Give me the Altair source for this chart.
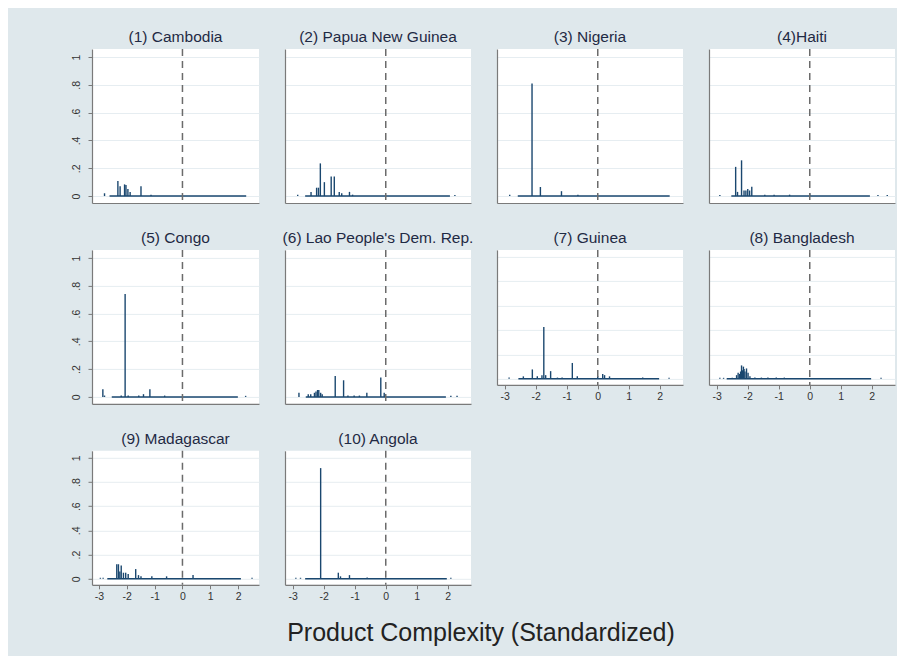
import altair as alt
import pandas as pd

# ---------------- data ----------------
countries = ["(1) Cambodia", "(2) Papua New Guinea", "(3) Nigeria", "(4)Haiti",
             "(5) Congo", "(6) Lao People's Dem. Rep.", "(7) Guinea", "(8) Bangladesh",
             "(9) Madagascar", "(10) Angola"]

cambodia_x = [-2.80, -2.32, -2.24, -2.08, -2.03, -1.96, -1.88, -1.49, -1.13]
cambodia_y = [0.02, 0.108, 0.07, 0.084, 0.08, 0.05, 0.03, 0.07, 0.01]

png_x = [-2.84, -2.41, -2.23, -2.17, -2.11, -1.98, -1.76, -1.66, -1.50, -1.42, -1.17, -1.07, 2.23]
png_y = [0.01, 0.03, 0.06, 0.06, 0.235, 0.10, 0.14, 0.14, 0.03, 0.02, 0.03, 0.01, 0.008]

nigeria_x = [-2.84, -2.12, -1.85, -1.17, -0.64]
nigeria_y = [0.01, 0.81, 0.065, 0.035, 0.01]

haiti_x = [-2.90, -2.39, -2.33, -2.20, -2.12, -2.06, -2.00, -1.94, -1.87, -1.45, -1.15, -0.65, 0.0, 2.2, 2.5]
haiti_y = [0.008, 0.21, 0.03, 0.257, 0.04, 0.04, 0.05, 0.04, 0.067, 0.01, 0.01, 0.01, 0.02, 0.008, 0.008]

congo_x = [-2.86, -2.80, -2.20, -2.06, -1.95, -1.57, -1.40, -1.17, -0.64, 2.27]
congo_y = [0.055, 0.01, 0.01, 0.74, 0.01, 0.01, 0.02, 0.055, 0.01, 0.008]

lao_x = [-2.80, -2.50, -2.42, -2.30, -2.25, -2.20, -2.16, -2.10, -2.05, -1.63, -1.36, -1.22,
         -1.02, -0.85, -0.61, -0.16, -0.05, 2.10, 2.30]
lao_y = [0.03, 0.02, 0.02, 0.03, 0.04, 0.05, 0.05, 0.03, 0.02, 0.15, 0.12, 0.01,
         0.01, 0.01, 0.03, 0.14, 0.03, 0.008, 0.008]

guinea_x = [-2.86, -2.40, -2.11, -1.95, -1.80, -1.74, -1.68, -1.52, -1.30, -1.15, -0.82, -0.66,
            0.0, 0.16, 0.22, 0.38, 1.45, 2.30]
guinea_y = [0.01, 0.02, 0.077, 0.02, 0.03, 0.425, 0.03, 0.063, 0.01, 0.01, 0.13, 0.02,
            0.02, 0.04, 0.03, 0.02, 0.01, 0.008]

bangladesh_x = [-2.90, -2.78, -2.50, -2.36, -2.31, -2.26, -2.23, -2.20, -2.17, -2.14, -2.12,
                -2.09, -2.04, -1.99, -1.93, -1.77, -1.56, -1.35, -1.08, -0.82, 2.30]
bangladesh_y = [0.008, 0.008, 0.008, 0.03, 0.05, 0.04, 0.06, 0.11, 0.07, 0.10, 0.08,
                0.06, 0.085, 0.05, 0.02, 0.01, 0.01, 0.01, 0.01, 0.01, 0.008]

madagascar_x = [-2.95, -2.85, -2.36, -2.30, -2.25, -2.20, -2.12, -2.04, -1.95, -1.68, -1.58,
                -1.49, -1.10, -0.57, 0.38, 2.50]
madagascar_y = [0.008, 0.008, 0.12, 0.12, 0.06, 0.11, 0.05, 0.05, 0.04, 0.08, 0.03,
                0.02, 0.02, 0.02, 0.03, 0.008]

angola_x = [-2.90, -2.75, -2.10, -1.53, -1.46, -1.17, -0.60, 2.10]
angola_y = [0.008, 0.008, 0.915, 0.05, 0.02, 0.03, 0.01, 0.008]

baseline_start = [-2.62, -2.60, -2.58, -2.53, -2.54, -2.58, -2.56, -2.68, -2.70, -2.60]
baseline_end = [2.29, 2.07, 2.32, 1.94, 1.99, 1.94, 1.98, 1.98, 2.10, 1.97]

series_x = [cambodia_x, png_x, nigeria_x, haiti_x, congo_x, lao_x, guinea_x, bangladesh_x,
            madagascar_x, angola_x]
series_y = [cambodia_y, png_y, nigeria_y, haiti_y, congo_y, lao_y, guinea_y, bangladesh_y,
            madagascar_y, angola_y]

x_ticks = [-3, -2, -1, 0, 1, 2]
y_ticks = [0, 0.2, 0.4, 0.6, 0.8, 1]
x_title = "Product Complexity (Standardized)"

# ---------------- styling ----------------
FONT = "Liberation Sans"
NAVY = "#1a476f"
BG = "#dfe8ec"

x_scale = alt.Scale(domain=[-3.25, 2.75], nice=False, zero=False)
y_scale = alt.Scale(domain=[-0.05, 1.058], nice=False, zero=False)


def panel(i, show_y, show_x, width, height):
    df = pd.DataFrame({"x": series_x[i], "y": series_y[i]})
    base_df = pd.DataFrame({"x0": [baseline_start[i]], "x1": [baseline_end[i]]})
    x_axis = alt.Axis(values=x_ticks, tickCount=20, labels=show_x, ticks=show_x, grid=False,
                      title=None, labelPadding=3, labelOverlap=False, labelBound=False,
                      labelExpr="datum.value < 0 ? '-' + (-datum.value) : '' + datum.value")
    y_axis = alt.Axis(values=y_ticks, tickCount=20, labels=show_y, ticks=show_y, grid=True,
                      title=None, labelAngle=270, labelAlign="center", labelBaseline="bottom",
                      labelPadding=7, labelOverlap=False, labelBound=False,
                      labelExpr="datum.value == 0 ? '0' : datum.value >= 1 ? '1' : '.' + format(datum.value*10, 'd')")
    spikes = alt.Chart(df).mark_rule(color=NAVY, strokeWidth=1.4).encode(
        x=alt.X("x:Q", scale=x_scale, axis=x_axis),
        y=alt.Y("y:Q", scale=y_scale, axis=y_axis),
        y2=alt.datum(0),
    )
    base = alt.Chart(base_df).mark_rule(color=NAVY, strokeWidth=1.4).encode(
        x=alt.X("x0:Q", scale=x_scale, axis=x_axis),
        x2="x1:Q",
        y=alt.datum(0),
    )
    zero = alt.Chart(base_df).mark_rule(color="#6b6b6b", strokeWidth=1.5, strokeDash=[7, 5]).encode(
        x=alt.datum(0),
    )
    return alt.layer(spikes, base, zero).properties(
        width=width, height=height,
        title=alt.TitleParams(countries[i], fontSize=15.5, font=FONT, color="#1f2a44",
                              fontWeight="normal", offset=3),
    )


panels = [
    panel(0, True, False, 167, 154), panel(1, False, False, 186, 154),
    panel(2, False, False, 186, 154), panel(3, False, False, 186, 154),
    panel(4, True, False, 167, 154), panel(5, False, False, 186, 154),
    panel(6, False, True, 186, 135), panel(7, False, True, 186, 135),
    panel(8, True, True, 167, 134), panel(9, False, True, 186, 134),
]

chart = alt.concat(*panels, columns=4, spacing={"row": 46.9, "column": 26},
                   bounds="flush", align="each").properties(
    background=BG,
    padding={"left": 62, "top": 21, "right": 2, "bottom": 11},
    title=alt.TitleParams(x_title, orient="bottom", fontSize=25, font=FONT, color="#222222",
                          fontWeight="normal", anchor="middle", dx=-2, offset=19),
).configure_view(stroke=None, fill="white").configure_axis(
    domainColor="#7a7a7a", domainWidth=1.2, tickColor="#7a7a7a", tickSize=4,
    labelColor="#333333", labelFont=FONT, labelFontSize=10.5,
    labelOverlap=False, gridColor="#e6edf1", gridWidth=1,
)

chart.save("out.html", embed_options={"renderer": "svg", "actions": False})
